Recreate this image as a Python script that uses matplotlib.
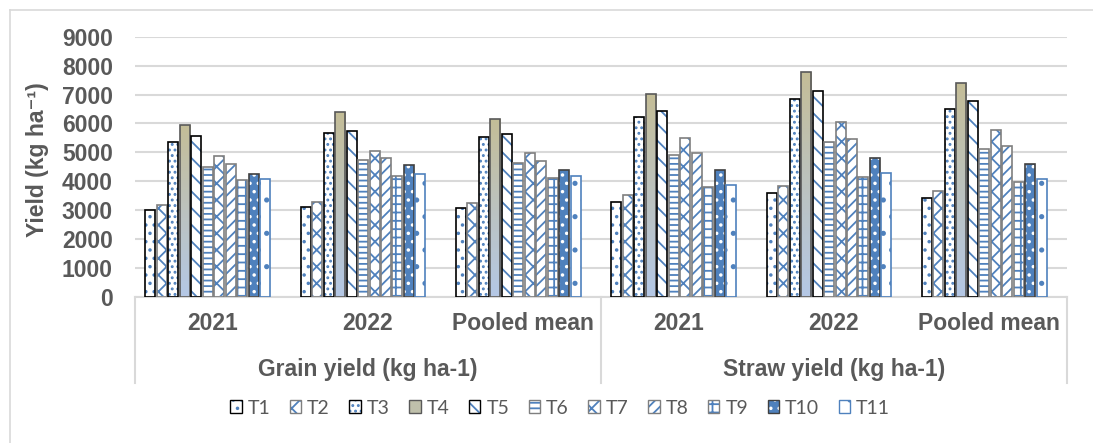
import numpy as np
import matplotlib
matplotlib.use("Agg")
import matplotlib.pyplot as plt
import matplotlib.transforms as mtransforms
from matplotlib.colors import LinearSegmentedColormap
from matplotlib.patches import Patch
from matplotlib.lines import Line2D

# data
groups = ["Grain yield (kg ha-1)", "Straw yield (kg ha-1)"]
periods = ["2021", "2022", "Pooled mean"]
treatments = ["T1", "T2", "T3", "T4", "T5", "T6", "T7", "T8", "T9", "T10", "T11"]

grain_2021 = [3000, 3170, 5360, 5960, 5560, 4500, 4880, 4610, 4050, 4260, 4090]
grain_2022 = [3110, 3300, 5680, 6390, 5730, 4750, 5040, 4800, 4190, 4550, 4270]
grain_pooled = [3060, 3240, 5520, 6170, 5650, 4630, 4980, 4710, 4120, 4400, 4170]
straw_2021 = [3300, 3530, 6210, 7030, 6440, 4900, 5490, 4990, 3820, 4400, 3880]
straw_2022 = [3580, 3840, 6850, 7770, 7110, 5370, 6040, 5460, 4140, 4810, 4280]
straw_pooled = [3440, 3680, 6510, 7400, 6780, 5130, 5780, 5230, 3990, 4610, 4080]

series = [grain_2021, grain_2022, grain_pooled, straw_2021, straw_2022, straw_pooled]

blue = "#4f81bd"
grey_txt = "#595959"
grid_col = "#d9d9d9"

# (face, hatch, hatch colour, edge colour) per treatment
styles = [
    ("white", "..", blue, "black"),
    ("white", "xx", blue, "#7f7f7f"),
    ("white", "...", blue, "black"),
    ("none", None, None, "#595959"),
    ("white", "\\\\", blue, "black"),
    ("white", "---", blue, "#7f7f7f"),
    ("white", "xx", blue, "#7f7f7f"),
    ("white", "///", blue, "#7f7f7f"),
    ("white", "++", blue, "#7f7f7f"),
    (blue, "..", "white", "#404040"),
    ("white", ".", blue, blue),
]

plt.rcParams["font.family"] = ["Liberation Sans", "DejaVu Sans"]
plt.rcParams["hatch.linewidth"] = 1.3

fig = plt.figure(figsize=(10.93, 4.43), dpi=100)
W, H = 1093, 443
ax = fig.add_axes([135 / W, 1 - 297 / H, 932 / W, (297 - 36.7) / H])

centers = np.arange(len(series)) + 0.5
shift = -0.032
step = 0.0739
width = 0.0644
grad_cmap = LinearSegmentedColormap.from_list("t4", ["#c4bd97", "#b4c8e6"])
grad = np.linspace(0, 1, 256).reshape(-1, 1)

legend_handles = []
for j, name in enumerate(treatments):
    vals = [s[j] for s in series]
    x = centers + shift + (j - 5) * step
    face, hatch, hcol, edge = styles[j]
    if hatch is not None:
        ax.bar(x, vals, width, color=face, hatch=hatch, edgecolor=hcol,
               linewidth=0, zorder=2)
        fill = Patch(facecolor=face, hatch=hatch, edgecolor=hcol, linewidth=0)
    else:
        fill = Patch(facecolor="#bfc0ab", linewidth=0)
    outline = ax.bar(x, vals, width, fill=False, edgecolor=edge,
                     linewidth=1.2, zorder=3)
    if hatch is None:
        for bar in outline:
            x0 = bar.get_x()
            im = ax.imshow(grad, extent=(x0, x0 + bar.get_width(), 0, bar.get_height()),
                           aspect="auto", cmap=grad_cmap, zorder=2)
            im.set_clip_path(bar)
    legend_handles.append((fill, Patch(fill=False, edgecolor=edge, linewidth=1.0)))

ax.set_xlim(0, 6)
ax.set_ylim(0, 9000)
ax.set_aspect("auto")
ax.set_yticks(range(0, 9001, 1000))
ax.set_xticks([])
ax.grid(axis="y", color=grid_col, linewidth=1.5)
ax.set_axisbelow(True)
for side in ["left", "top", "right"]:
    ax.spines[side].set_visible(False)
ax.spines["bottom"].set_color(grid_col)
ax.spines["bottom"].set_linewidth(1.5)
ax.tick_params(axis="y", length=0, pad=16, labelsize=16.5, labelcolor=grey_txt)
for lab in ax.get_yticklabels():
    lab.set_fontweight("bold")

# two level category axis
trans = mtransforms.blended_transform_factory(ax.transData, ax.transAxes)
for i, p in enumerate(periods * len(groups)):
    ax.text(centers[i], -0.1, p, transform=trans, ha="center", va="center",
            fontsize=16.5, fontweight="bold", color=grey_txt)
for g, name in enumerate(groups):
    ax.text(3 * g + 1.5, -0.28, name, transform=trans, ha="center", va="center",
            fontsize=16.5, fontweight="bold", color=grey_txt)
for xv in [0, 3, 6]:
    ax.plot([xv, xv], [0, -0.33], transform=trans, color=grid_col,
            linewidth=1.5, clip_on=False)

fig.text(38 / W, 1 - 160 / H, "Yield (kg ha\u207b\u00b9)", rotation=90,
         ha="center", va="center", fontsize=16.5, fontweight="bold", color=grey_txt)

fig.legend(legend_handles, treatments, loc="center",
           bbox_to_anchor=(560 / W, 1 - 408 / H), ncol=11, frameon=False,
           handlelength=0.6, handleheight=0.6, handletextpad=0.3,
           columnspacing=1.0, prop={"family": "Lato", "size": 14},
           labelcolor=grey_txt)

# chart border (clipped at right/bottom in the reference)
fig.add_artist(Line2D([10 / W, 10 / W], [0, 1 - 10 / H], transform=fig.transFigure,
                      color=grid_col, linewidth=1.2))
fig.add_artist(Line2D([10 / W, 1], [1 - 10 / H, 1 - 10 / H], transform=fig.transFigure,
                      color=grid_col, linewidth=1.2))

fig.savefig("out.png", dpi=100)
